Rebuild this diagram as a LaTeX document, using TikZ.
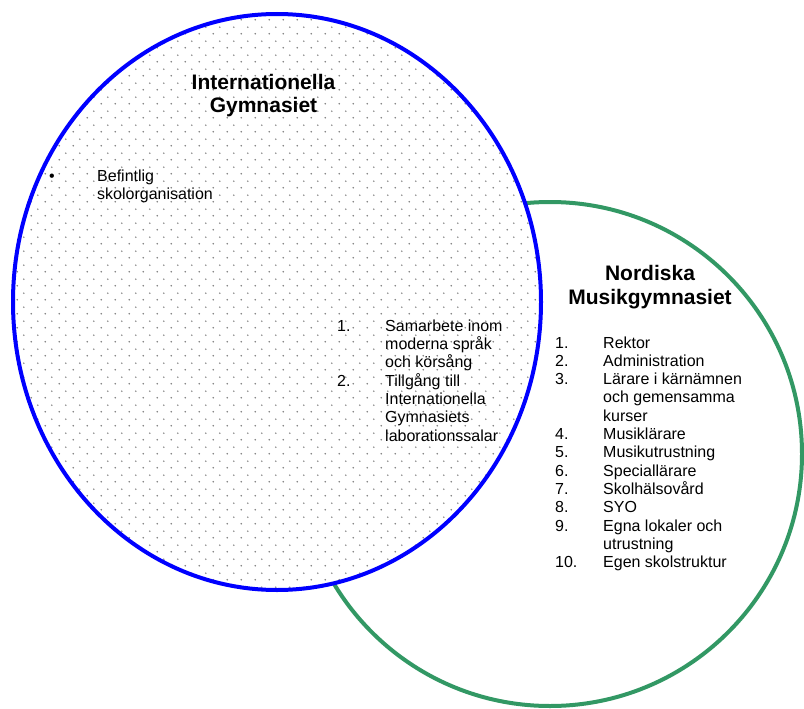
\documentclass[tikz,border=0pt]{standalone}
\usepackage{fontspec}
\setmainfont{Liberation Sans}
\usetikzlibrary{patterns}
\definecolor{vblue}{RGB}{0,0,255}
\definecolor{vgreen}{RGB}{50,152,100}
\definecolor{dotgray}{RGB}{125,125,125}
\pgfdeclarepatternformonly{vdots}{\pgfpointorigin}{\pgfpoint{14pt}{14pt}}{\pgfpoint{14pt}{14pt}}{%
  \pgfpathcircle{\pgfpoint{3.5pt}{3.5pt}}{0.9pt}%
  \pgfpathcircle{\pgfpoint{10.5pt}{10.5pt}}{0.9pt}%
  \pgfusepath{fill}}
\tikzset{
  ring/.style={line width=4pt},
  titletext/.style={font=\fontsize{21}{24}\selectfont\bfseries, align=center, inner sep=0pt},
  listtext/.style={font=\fontsize{16}{18.3}\selectfont, inner sep=0pt, anchor=base west}
}
\begin{document}
\begin{tikzpicture}[x=1pt,y=-1pt]
\useasboundingbox (0,0) rectangle (804,709);
% green circle
\draw[ring, vgreen, fill=white] (550,454) circle[radius=252];
% blue ellipse with dots
\fill[white] (277,302) ellipse[x radius=264, y radius=288];
\fill[pattern=vdots, pattern color=dotgray] (277,302) ellipse[x radius=264, y radius=288];
\draw[ring, vblue] (277,302) ellipse[x radius=264, y radius=288];
% titles (base anchor = baseline of last line)
\node[titletext, anchor=base] (t1) at (263.5,113) {Internationella\\Gymnasiet};
\node[titletext, anchor=base] (t2) at (650,304) {Nordiska\\Musikgymnasiet};
% bullet list
\node[listtext] (l1) at (49,181) {\begin{tabular}[t]{@{}p{48pt}@{}l@{}}
•&Befintlig\\
&skolorganisation
\end{tabular}};
% middle list
\node[listtext] (l2) at (337,331) {\begin{tabular}[t]{@{}p{48pt}@{}l@{}}
1.&Samarbete inom\\
&moderna språk\\
&och körsång\\
2.&Tillgång till\\
&Internationella\\
&Gymnasiets\\
&laborationssalar
\end{tabular}};
% right list
\node[listtext] (l3) at (555,348) {\begin{tabular}[t]{@{}p{48pt}@{}l@{}}
1.&Rektor\\
2.&Administration\\
3.&Lärare i kärnämnen\\
&och gemensamma\\
&kurser\\
4.&Musiklärare\\
5.&Musikutrustning\\
6.&Speciallärare\\
7.&Skolhälsovård\\
8.&SYO\\
9.&Egna lokaler och\\
&utrustning\\
10.&Egen skolstruktur
\end{tabular}};
\end{tikzpicture}
\end{document}
